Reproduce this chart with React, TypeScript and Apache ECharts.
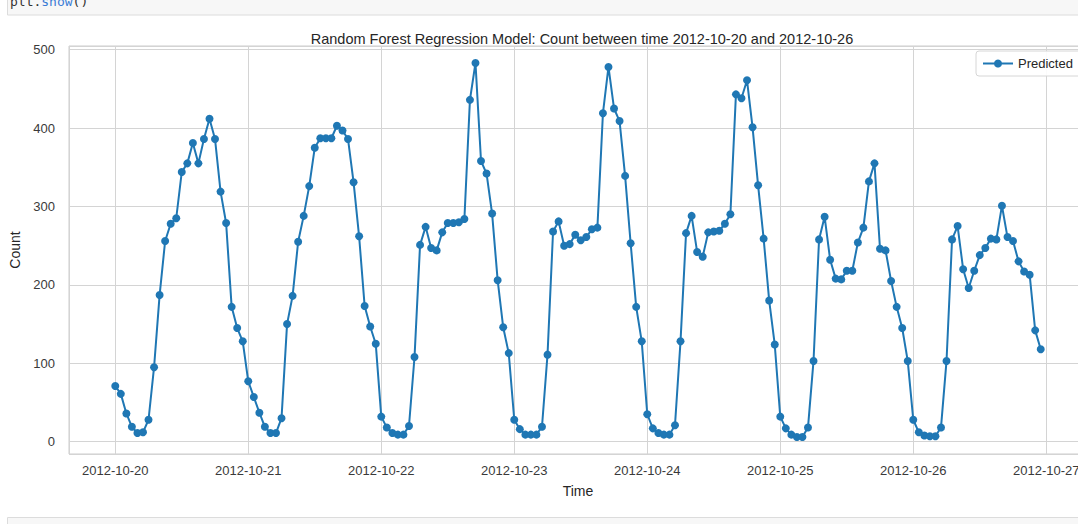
import React, { useEffect, useRef } from "react";
import * as echarts from "echarts";

// Hourly predicted counts, one array per day (hour 0..23)
const oct20 = [71, 61, 36, 19, 11, 12, 28, 95, 187, 256, 278, 285, 344, 355, 381, 355, 386, 412, 386, 319, 279, 172, 145, 128];
const oct21 = [77, 57, 37, 19, 11, 11, 30, 150, 186, 255, 288, 326, 375, 387, 387, 387, 403, 397, 386, 331, 262, 173, 147, 125];
const oct22 = [32, 18, 11, 9, 9, 20, 108, 251, 274, 247, 244, 267, 279, 279, 280, 284, 436, 483, 358, 342, 291, 206, 146, 113];
const oct23 = [28, 16, 9, 9, 9, 19, 111, 268, 281, 250, 252, 264, 257, 261, 271, 273, 419, 478, 425, 409, 339, 253, 172, 128];
const oct24 = [35, 17, 11, 9, 9, 21, 128, 266, 288, 242, 236, 267, 268, 269, 278, 290, 443, 438, 461, 401, 327, 259, 180, 124];
const oct25 = [32, 17, 9, 6, 6, 18, 103, 258, 287, 232, 208, 207, 218, 218, 254, 273, 332, 355, 246, 244, 205, 172, 145, 103];
const oct26 = [28, 12, 8, 7, 7, 18, 103, 258, 275, 220, 196, 218, 238, 247, 259, 258, 301, 261, 256, 230, 217, 213, 142, 118];

const dayValues = [oct20, oct21, oct22, oct23, oct24, oct25, oct26];
const startDay = [2012, 9, 20]; // 2012-10-20 (month is 0-based)

const title = "Random Forest Regression Model: Count between time 2012-10-20 and 2012-10-26";
const seriesName = "Predicted";
const xLabel = "Time";
const yLabel = "Count";

const HOUR = 3600 * 1000;

export default function App() {
  const ref = useRef<HTMLDivElement>(null);

  useEffect(() => {
    if (!ref.current) return;
    const chart = echarts.init(ref.current, null, { renderer: "svg" });
    const start = new Date(startDay[0], startDay[1], startDay[2], 0, 0, 0).getTime();
    const data: [number, number][] = [];
    dayValues.forEach((arr, d) => {
      arr.forEach((v, h) => {
        data.push([start + (d * 24 + h) * HOUR, v]);
      });
    });
    const lastT = data[data.length - 1][0];
    const span = lastT - start;
    const pad = span * 0.05;
    const font = "'Liberation Sans', Arial, sans-serif";

    chart.setOption({
      animation: false,
      backgroundColor: "#ffffff",
      title: {
        text: title,
        left: 577,
        top: 26,
        textAlign: "center",
        textStyle: { fontFamily: font, fontSize: 14.5, fontWeight: "normal", color: "#262626" },
      },
      legend: {
        left: 976,
        top: 51,
        padding: [6, 8, 6, 6],
        itemWidth: 30,
        itemHeight: 10,
        itemGap: 8,
        backgroundColor: "rgba(255,255,255,0.9)",
        borderColor: "#d6d6d6",
        borderWidth: 1,
        borderRadius: 3,
        textStyle: { fontFamily: font, fontSize: 13, color: "#262626" },
        data: [seriesName],
      },
      grid: {
        left: 67,
        right: 0,
        top: 46,
        bottom: 70,
        show: true,
        borderColor: "#cccccc",
        borderWidth: 1,
        containLabel: false,
      },
      xAxis: {
        type: "time",
        min: start - pad,
        max: lastT + pad,
        splitNumber: 7,
        minInterval: 24 * HOUR,
        maxInterval: 24 * HOUR,
        name: xLabel,
        nameLocation: "middle",
        nameGap: 30,
        nameTextStyle: { fontFamily: font, fontSize: 14, color: "#262626" },
        axisLine: { show: false },
        axisTick: { show: false },
        splitLine: { show: true, lineStyle: { color: "#d4d4d4", width: 1 } },
        axisLabel: {
          formatter: "{yyyy}-{MM}-{dd}",
          showMinLabel: false,
          showMaxLabel: false,
          margin: 10,
          fontFamily: font,
          fontSize: 13,
          color: "#3a3a3a",
        },
      },
      yAxis: {
        type: "value",
        min: -15.7,
        max: 504.7,
        splitNumber: 5,
        name: yLabel,
        nameLocation: "middle",
        nameGap: 47,
        nameTextStyle: { fontFamily: font, fontSize: 14, color: "#262626" },
        axisLine: { show: false },
        axisTick: { show: false },
        splitLine: { show: true, lineStyle: { color: "#d4d4d4", width: 1 } },
        axisLabel: {
          showMinLabel: false,
          showMaxLabel: false,
          margin: 14,
          fontFamily: font,
          fontSize: 13,
          color: "#3a3a3a",
          formatter: (v: number) => (Math.abs(v % 100) < 1e-6 ? String(v) : ""),
        },
      },
      series: [
        {
          name: seriesName,
          type: "line",
          data,
          symbol: "circle",
          symbolSize: 8,
          showSymbol: true,
          lineStyle: { color: "#1f77b4", width: 2 },
          itemStyle: { color: "#1f77b4" },
        },
      ],
      graphic: [
        {
          type: "rect",
          shape: { x: 7.5, y: -2, width: 1090, height: 17 },
          style: { fill: "#f7f7f7", stroke: "#dcdcdc", lineWidth: 1 },
          silent: true,
        },
        {
          type: "text",
          x: 10,
          y: -5,
          style: {
            text: "{a|plt.}{b|show}{a|()}",
            rich: {
              a: { fontFamily: "'DejaVu Sans Mono', monospace", fontSize: 13, fill: "#333333" },
              b: { fontFamily: "'DejaVu Sans Mono', monospace", fontSize: 13, fill: "#3a7bd5" },
            },
          },
          silent: true,
        },
        {
          type: "rect",
          shape: { x: 7.5, y: 517.5, width: 1090, height: 20 },
          style: { fill: "#f7f7f7", stroke: "#dcdcdc", lineWidth: 1 },
          silent: true,
        },
      ],
    });

    return () => chart.dispose();
  }, []);

  return (
    <div
      ref={ref}
      style={{ position: "fixed", left: 0, top: 0, width: 1087, height: 524 }}
    />
  );
}
